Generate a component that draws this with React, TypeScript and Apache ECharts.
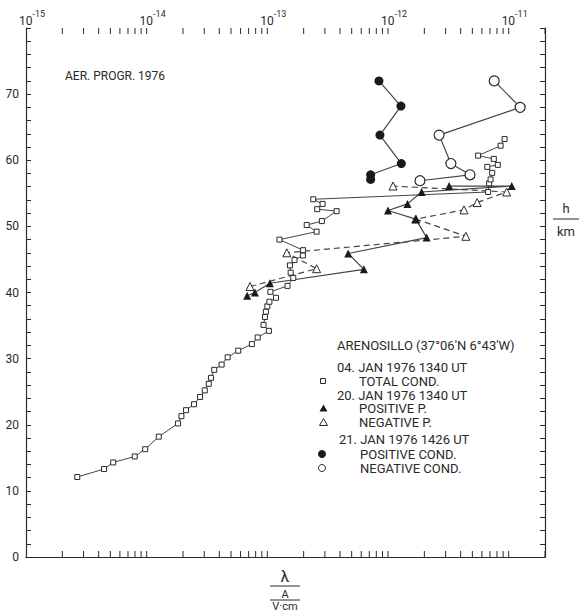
import React, { useEffect, useRef } from "react";
import * as echarts from "echarts";

// ---- data (lambda in A/(V·cm), h in km) ----
const totalCondLambda = [
  2.66e-15, 4.43e-15, 5.28e-15, 7.96e-15, 9.72e-15, 1.26e-14, 1.82e-14, 1.94e-14, 2.12e-14, 2.47e-14,
  2.77e-14, 3.03e-14, 3.27e-14, 3.41e-14, 3.63e-14, 4.18e-14, 4.69e-14, 5.74e-14, 7.45e-14, 8.32e-14,
  1.03e-13, 9.31e-14, 9.55e-14, 9.73e-14, 1.0e-13, 1.04e-13, 1.18e-13, 1.06e-13, 1.47e-13, 1.64e-13,
  1.56e-13, 1.54e-13, 1.68e-13, 1.97e-13, 1.98e-13, 1.26e-13, 2.56e-13, 2.12e-13, 2.83e-13, 3.75e-13,
  2.59e-13, 2.87e-13, 2.4e-13, 6.76e-12, 6.89e-12, 7.08e-12, 7.3e-12, 6.65e-12, 8.13e-12, 7.53e-12,
  5.58e-12, 8.57e-12, 9.25e-12,
];
const totalCondH = [
  12.1, 13.3, 14.3, 15.2, 16.3, 18.2, 20.2, 21.3, 22.2, 23.1,
  24.2, 25.2, 26.2, 27.1, 28.3, 29.1, 30.2, 31.2, 32.2, 33.2,
  34.2, 35.1, 36.3, 37.1, 37.9, 38.6, 39.2, 40.1, 41.0, 42.2,
  43.0, 44.1, 44.9, 45.6, 46.4, 48.0, 49.2, 50.2, 50.8, 52.3,
  52.6, 53.4, 54.1, 55.2, 56.5, 57.1, 58.1, 59.0, 59.3, 60.2,
  60.7, 62.2, 63.2,
];
const posPLambda = [6.81e-14, 7.89e-14, 1.05e-13, 6.31e-13, 4.68e-13, 2.09e-12, 1.7e-12, 1.0e-12, 1.45e-12, 1.9e-12, 1.06e-11, 3.21e-12];
const posPH = [39.5, 40.0, 41.4, 43.5, 45.9, 48.3, 51.1, 52.4, 53.4, 55.2, 56.1, 56.1];
const negPLambda = [7.18e-14, 2.56e-13, 1.45e-13, 4.42e-12, 1.7e-12, 4.26e-12, 5.48e-12, 9.62e-12, 1.1e-12];
const negPH = [40.9, 43.6, 46.0, 48.5, 51.1, 52.5, 53.6, 55.2, 56.1];
const posCondLambda = [8.41e-13, 1.28e-12, 8.57e-13, 1.29e-12, 7.18e-13, 7.18e-13];
const posCondH = [72.0, 68.2, 63.8, 59.5, 57.8, 57.1];
const negCondLambda = [7.59e-12, 1.245e-11, 2.65e-12, 3.32e-12, 4.78e-12, 1.84e-12];
const negCondH = [72.0, 68.0, 63.8, 59.5, 57.8, 56.9];

// ---- axes ----
const X_MIN = 1e-15;
const X_MAX = 2e-11;
const Y_MIN = 0;
const Y_MAX = 80;
const tickDecades = [-15, -14, -13, -12, -11];
const tickMantissas = [1, 2, 3, 4, 5, 6, 7, 8, 9];

const INK = "#2a2a2a";
const LINE = "#444";
const FONT = "Roboto, 'DejaVu Sans', sans-serif";

const zip = (xs: number[], ys: number[]) => xs.map((x, i) => [x, ys[i]]);

export default function App() {
  const ref = useRef<HTMLDivElement>(null);
  useEffect(() => {
    if (!ref.current) return;
    const chart = echarts.init(ref.current, undefined, { renderer: "svg" });

    const ticks: number[][] = [];
    tickDecades.forEach((d) =>
      tickMantissas.forEach((m) => {
        const v = m * Math.pow(10, d);
        if (v > X_MIN * 1.001 && v <= X_MAX * 1.0001) ticks.push([v, 0]);
      })
    );

    const xLabel = (v: number) => {
      const l = Math.log10(v);
      const e = Math.round(l);
      if (Math.abs(l - e) > 0.01) return "";
      return "{b|10}{s|" + e + "}";
    };

    const lineBase = { type: "line" as const, xAxisIndex: 0, yAxisIndex: 0, z: 3 };
    const txt = (x: number, y: number, text: string, size = 13, extra: any = {}) => ({
      type: "text",
      x,
      y,
      style: { text, fill: INK, font: `${size}px ${FONT}`, textVerticalAlign: "middle", ...extra },
      silent: true,
    });

    chart.setOption({
      animation: false,
      backgroundColor: "#fff",
      grid: { left: 26, right: 37, top: 28, bottom: 55, containLabel: false },
      xAxis: [
        {
          type: "log",
          logBase: 10,
          min: X_MIN,
          max: X_MAX,
          position: "top",
          axisLine: { show: true, lineStyle: { color: INK, width: 1.2 } },
          axisTick: { show: false },
          splitLine: { show: false },
          axisLabel: {
            show: true,
            margin: 1,
            padding: [0, 0, 0, 12],
            formatter: xLabel,
            rich: {
              b: { fontSize: 12, lineHeight: 18, verticalAlign: "bottom", color: INK, fontFamily: FONT },
              s: { fontSize: 9, lineHeight: 9, verticalAlign: "top", color: INK, fontFamily: FONT },
            },
          },
        },
        {
          type: "log",
          logBase: 10,
          min: X_MIN,
          max: X_MAX,
          position: "bottom",
          axisLine: { show: true, lineStyle: { color: INK, width: 1.2 } },
          axisTick: { show: false },
          splitLine: { show: false },
          axisLabel: { show: false },
        },
      ],
      yAxis: [
        {
          type: "value",
          min: Y_MIN,
          max: Y_MAX,
          interval: 2,
          position: "left",
          axisLine: { show: true, lineStyle: { color: INK, width: 1.2 } },
          axisTick: { show: true, inside: true, length: 5, lineStyle: { color: INK } },
          splitLine: { show: false },
          axisLabel: {
            margin: 7,
            color: INK,
            fontSize: 12,
            fontFamily: FONT,
            formatter: (v: number) => (v % 10 === 0 && v < Y_MAX ? String(v) : ""),
          },
        },
        {
          type: "value",
          min: Y_MIN,
          max: Y_MAX,
          interval: 2,
          position: "right",
          axisLine: { show: true, lineStyle: { color: INK, width: 1.2 } },
          axisTick: { show: true, inside: true, length: 5, lineStyle: { color: INK } },
          splitLine: { show: false },
          axisLabel: { show: false },
        },
      ],
      series: [
        {
          type: "custom",
          xAxisIndex: 0,
          yAxisIndex: 0,
          silent: true,
          z: 1,
          data: ticks,
          renderItem: (_p: any, api: any) => {
            const v = api.value(0);
            const t = api.coord([v, Y_MAX]);
            const b = api.coord([v, Y_MIN]);
            const st = { stroke: INK, lineWidth: 1 };
            return {
              type: "group",
              children: [
                { type: "line", shape: { x1: t[0], y1: t[1], x2: t[0], y2: t[1] + 6 }, style: st },
                { type: "line", shape: { x1: b[0], y1: b[1], x2: b[0], y2: b[1] - 6 }, style: st },
              ],
            };
          },
        },
        {
          ...lineBase,
          name: "TOTAL COND.",
          data: zip(totalCondLambda, totalCondH),
          symbol: "rect",
          symbolSize: 5,
          lineStyle: { color: LINE, width: 1 },
          itemStyle: { color: "#fff", borderColor: INK, borderWidth: 1 },
        },
        {
          ...lineBase,
          name: "NEGATIVE P.",
          data: zip(negPLambda, negPH),
          symbol: "triangle",
          symbolSize: 8,
          lineStyle: { color: LINE, width: 1.2, type: [6, 4] },
          itemStyle: { color: "#fff", borderColor: INK, borderWidth: 1 },
        },
        {
          ...lineBase,
          name: "POSITIVE P.",
          data: zip(posPLambda, posPH),
          symbol: "triangle",
          symbolSize: 8,
          lineStyle: { color: LINE, width: 1.2 },
          itemStyle: { color: "#1a1a1a" },
        },
        {
          ...lineBase,
          name: "POSITIVE COND.",
          data: zip(posCondLambda, posCondH),
          symbol: "circle",
          symbolSize: 9,
          lineStyle: { color: LINE, width: 1.2 },
          itemStyle: { color: "#1a1a1a" },
        },
        {
          ...lineBase,
          name: "NEGATIVE COND.",
          data: zip(negCondLambda, negCondH),
          symbol: "circle",
          symbolSize: 10,
          lineStyle: { color: LINE, width: 1.2 },
          itemStyle: { color: "#fff", borderColor: INK, borderWidth: 1.2 },
        },
      ],
      graphic: [
        txt(65, 76, "AER. PROGR. 1976", 12),
        txt(337, 345, "ARENOSILLO (37°06'N 6°43'W)"),
        txt(337, 367, "04. JAN 1976 1340 UT"),
        txt(359, 381, "TOTAL COND."),
        txt(337, 395, "20. JAN 1976 1340 UT"),
        txt(359, 408.5, "POSITIVE P."),
        txt(359, 422.5, "NEGATIVE P."),
        txt(339, 439, "21. JAN 1976 1426 UT"),
        txt(360, 454, "POSITIVE COND."),
        txt(360, 468, "NEGATIVE COND."),
        { type: "rect", shape: { x: 320.5, y: 378.5, width: 5, height: 5 }, style: { fill: "#fff", stroke: INK, lineWidth: 1 }, silent: true },
        { type: "polygon", shape: { points: [[323.5, 404.5], [327.5, 411.5], [319.5, 411.5]] }, style: { fill: "#1a1a1a" }, silent: true },
        { type: "polygon", shape: { points: [[323.5, 418.5], [327.5, 425.5], [319.5, 425.5]] }, style: { fill: "#fff", stroke: INK, lineWidth: 1 }, silent: true },
        { type: "circle", shape: { cx: 322, cy: 454, r: 4 }, style: { fill: "#1a1a1a" }, silent: true },
        { type: "circle", shape: { cx: 322, cy: 468, r: 3.5 }, style: { fill: "#fff", stroke: INK, lineWidth: 1 }, silent: true },
        // right axis name h / km
        txt(566, 208, "h", 13, { textAlign: "center" }),
        { type: "line", shape: { x1: 553, y1: 219, x2: 579, y2: 219 }, style: { stroke: INK, lineWidth: 1 }, silent: true },
        txt(566, 231, "km", 13, { textAlign: "center" }),
        // bottom axis name lambda / (A / V·cm)
        txt(285, 576, "λ", 16, { textAlign: "center" }),
        { type: "line", shape: { x1: 270, y1: 586, x2: 300, y2: 586 }, style: { stroke: INK, lineWidth: 1 }, silent: true },
        txt(285, 594, "A", 11, { textAlign: "center" }),
        { type: "line", shape: { x1: 270, y1: 600, x2: 300, y2: 600 }, style: { stroke: INK, lineWidth: 1 }, silent: true },
        txt(285, 606, "V·cm", 11, { textAlign: "center" }),
      ],
    });
    return () => chart.dispose();
  }, []);
  return <div ref={ref} style={{ position: "absolute", left: 0, top: 0, width: 582, height: 612, background: "#fff" }} />;
}
